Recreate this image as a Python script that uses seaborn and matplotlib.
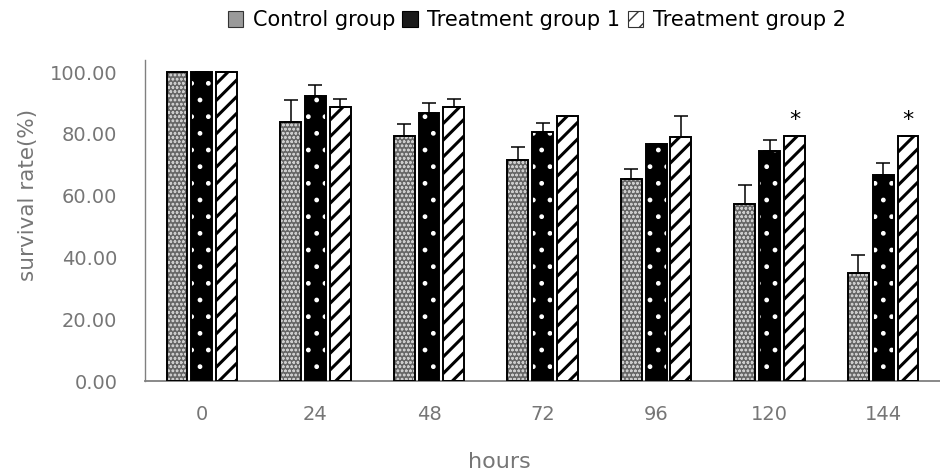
import matplotlib
matplotlib.use("Agg")
import matplotlib.pyplot as plt
import seaborn as sns
import pandas as pd
import numpy as np
from matplotlib.patches import Rectangle, Patch

hours = ['0', '24', '48', '72', '96', '120', '144']
groups = ['Control group', 'Treatment group 1', 'Treatment group 2']
control = [100, 83.8, 79.3, 71.5, 65.5, 57.3, 34.9]
control_err = [0, 7.1, 3.9, 4.3, 3.1, 6.0, 6.0]
treat1 = [100, 92.2, 86.7, 80.6, 76.6, 74.5, 66.7]
treat1_err = [0, 3.6, 3.3, 3.0, 0, 3.5, 3.9]
treat2 = [100, 88.7, 88.7, 85.8, 79.0, 79.4, 79.4]
treat2_err = [0, 2.6, 2.6, 0, 6.8, 0, 0]
star_hours = ['120', '144']

sns.set_theme(style="white")
plt.rcParams['font.family'] = ['DejaVu Sans']
plt.rcParams['hatch.linewidth'] = 1.0

rows = []
for g, vals in zip(groups, [control, treat1, treat2]):
    for h, v in zip(hours, vals):
        rows.append({'hours': h, 'group': g, 'value': v})
df = pd.DataFrame(rows)

fig = plt.figure(figsize=(9.4, 4.74), dpi=100)
ax = fig.add_axes([0.1543, 0.1962, 0.8457, 0.6772])

sns.barplot(data=df, x='hours', y='value', hue='group', order=hours,
            hue_order=groups, errorbar=None, width=0.655, gap=0.16,
            palette=['#8c8c8c', '#000000', '#ffffff'], ax=ax, legend=False)

styles = {
    0: dict(face='#666666', hatch='oooo', hcol='#cccccc', hlw=0.7),
    1: dict(face='#000000', hatch='.', hcol='#ffffff', hlw=1.0),
    2: dict(face='#ffffff', hatch='//', hcol='#000000', hlw=2.2),
}
errs = [control_err, treat1_err, treat2_err]
n = len(hours)
bar_containers = list(ax.containers)[:3]
for gi, cont in enumerate(bar_containers):
    st = styles[gi]
    xs, tops = [], []
    for bar in cont.patches:
        bar.set_facecolor(st['face'])
        bar.set_edgecolor(st['hcol'])
        bar.set_hatch(st['hatch'])
        if hasattr(bar, 'set_hatch_linewidth'):
            bar.set_hatch_linewidth(st['hlw'])
        bar.set_linewidth(0)
        x0, w, h = bar.get_x(), bar.get_width(), bar.get_height()
        ax.add_patch(Rectangle((x0, 0), w, h, fill=False, edgecolor='#000000',
                               linewidth=1.4, zorder=3))
        xs.append(x0 + w / 2)
        tops.append(h)
    e = np.array(errs[gi])
    ax.errorbar(xs, tops, yerr=[np.zeros_like(e), e], fmt='none',
                ecolor='#000000', elinewidth=1.1, capsize=4.7, capthick=1.1,
                zorder=4, clip_on=False)
    if gi == 2:
        for h_lbl, x, t, ee in zip(hours, xs, tops, e):
            if h_lbl in star_hours:
                ax.text(x, t + ee + 5.0, '*', ha='center', va='center',
                        fontsize=16, color='#000000')

ax.set_ylim(0, 103.9)
ax.set_yticks([0, 20, 40, 60, 80, 100])
ax.set_yticklabels([f'{v:.2f}' for v in [0, 20, 40, 60, 80, 100]])
ax.set_xlim(-0.5, n - 0.5)
ax.tick_params(axis='both', colors='#767676', labelsize=14, length=0)
ax.tick_params(axis='y', pad=20)
ax.tick_params(axis='x', pad=17)
ax.set_xlabel('hours', fontsize=16, color='#767676')
ax.xaxis.set_label_coords((499 - 145) / 795, -(462 - 381) / 321, transform=ax.transAxes)
ax.xaxis.label.set_va('center')
ax.set_ylabel('survival rate(%)', fontsize=15.5, color='#767676')
ax.yaxis.set_label_coords(-(145 - 28) / 795, (381 - 195) / 321, transform=ax.transAxes)
ax.yaxis.label.set_va('center')
for s in ['top', 'right']:
    ax.spines[s].set_visible(False)
ax.spines['left'].set_color('#808080')
ax.spines['bottom'].set_color('#808080')
ax.spines['left'].set_linewidth(1.0)
ax.spines['bottom'].set_linewidth(1.3)

handles = [
    Patch(facecolor='#9a9a9a', edgecolor='#333333', linewidth=0.8),
    Patch(facecolor='#1a1a1a', edgecolor='#000000', linewidth=0.8),
    Patch(facecolor='#ffffff', edgecolor='#333333', hatch='//', linewidth=0.8),
]
fig.legend(handles, groups, loc='center', bbox_to_anchor=(0.571, 0.957),
           ncol=3, frameon=False, fontsize=15, handlelength=0.75, handleheight=0.75,
           handletextpad=0.45, columnspacing=0.35, borderpad=0, labelcolor='#000000')

fig.savefig('out.png', dpi=100)
